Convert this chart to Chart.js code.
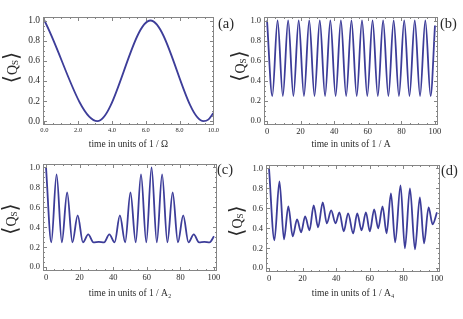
<!DOCTYPE html>
<html>
<head>
<meta charset="utf-8">
<script src="https://cdn.jsdelivr.net/npm/chart.js@4.4.1/dist/chart.umd.min.js"></script>
<style>
    body { margin: 0; background: #fff; width: 463px; height: 319px; overflow: hidden; position: relative; }
    canvas { position: absolute; }
</style>
</head>
<body>
<canvas id="chartA" width="240" height="150" style="left:0;top:0"></canvas>
<canvas id="chartB" width="235" height="150" style="left:228px;top:0"></canvas>
<canvas id="chartC" width="240" height="169" style="left:0;top:150px"></canvas>
<canvas id="chartD" width="235" height="169" style="left:228px;top:150px"></canvas>
<script>
// ============= DATA (extrema of each curve) =============

// (a) time in units of 1/Ω
const aTime  = [0, 3.14, 6.28, 9.42, 9.7, 10];
const aValue = [1.0, 0.0, 1.0, 0.0, 0.015, 0.08];

// (b) time in units of 1/A
const bTime  = [0, 3.14, 6.28, 9.42, 12.57, 15.71, 18.85, 21.99, 25.13, 28.27, 31.42,
                34.56, 37.70, 40.84, 43.98, 47.12, 50.27, 53.41, 56.55, 59.69, 62.83,
                65.97, 69.12, 72.26, 75.40, 78.54, 81.68, 84.82, 87.96, 91.11, 94.25, 97.39, 100];
const bValue = [1.0, 0.25, 1.0, 0.25, 1.0, 0.25, 1.0, 0.25, 1.0, 0.25, 1.0,
                0.25, 1.0, 0.25, 1.0, 0.25, 1.0, 0.25, 1.0, 0.25, 1.0,
                0.25, 1.0, 0.25, 1.0, 0.25, 1.0, 0.25, 1.0, 0.25, 1.0, 0.25, 0.95];

// (c) time in units of 1/A2
const cTime  = [0, 3.14, 6.28, 9.42, 12.57, 15.71, 18.85, 21.99, 25.13, 28.27, 31.42,
                34.56, 37.70, 40.84, 43.98, 47.12, 50.27, 53.41, 56.55, 59.69, 62.83,
                65.97, 69.12, 72.26, 75.40, 78.54, 81.68, 84.82, 87.96, 91.11, 94.25, 97.39, 100];
const cValue = [1.0, 0.25, 0.93, 0.25, 0.75, 0.25, 0.52, 0.25, 0.33, 0.25, 0.255,
                0.25, 0.33, 0.25, 0.52, 0.25, 0.75, 0.25, 0.93, 0.25, 1.0,
                0.25, 0.93, 0.25, 0.75, 0.25, 0.52, 0.25, 0.33, 0.25, 0.255, 0.25, 0.31];

// (d) time in units of 1/A4
const dTime  = [0, 3.2, 6.2, 8.9, 11.5, 14.1, 16.7, 19.1, 21.5, 24.1, 26.6, 29.2, 32.0,
                34.4, 37.0, 39.6, 41.9, 44.5, 47.1, 50.1, 52.5, 55.1, 57.7, 60.0, 62.6,
                65.0, 67.6, 70.0, 72.6, 75.1, 78.3, 80.9, 83.9, 86.9, 89.8, 92.3, 95.0, 97.4, 100];
const dValue = [1.0, 0.28, 0.87, 0.29, 0.62, 0.32, 0.49, 0.36, 0.52, 0.38, 0.63, 0.41, 0.66,
                0.45, 0.58, 0.45, 0.56, 0.37, 0.55, 0.35, 0.55, 0.38, 0.56, 0.37, 0.59,
                0.40, 0.62, 0.35, 0.75, 0.26, 0.83, 0.20, 0.80, 0.19, 0.71, 0.25, 0.61, 0.44, 0.56];

// tick labels
const yTicks      = [0, 0.2, 0.4, 0.6, 0.8, 1.0];
const xTicksOmega = [0, 2, 4, 6, 8, 10];
const xTicksTime  = [0, 20, 40, 60, 80, 100];

// ============= STYLE =============

const LINE_COLOR = '#3d3d99';
const FRAME_COLOR = '#858585';
const TEXT_COLOR = '#2a2a2a';
const SERIF = '"Liberation Serif", "DejaVu Serif", serif';

// frame with inward ticks on all four sides (Mathematica look)
const frameTicks = {
    id: 'frameTicks',
    afterDatasetsDraw(chart, args, opts) {
        const {ctx, chartArea: a, scales} = chart;
        ctx.save();
        ctx.strokeStyle = FRAME_COLOR;
        ctx.lineWidth = 1;
        ctx.strokeRect(Math.round(a.left) + 0.5, Math.round(a.top) + 0.5,
                       Math.round(a.right - a.left) - 1, Math.round(a.bottom - a.top) - 1);

        ctx.beginPath();
        // x ticks
        const sx = scales.x;
        for (let k = Math.ceil(sx.min / opts.xMinor); k * opts.xMinor <= sx.max; k++) {
            const v = k * opts.xMinor;
            const major = Math.abs(v / opts.xMajor - Math.round(v / opts.xMajor)) < 1e-6;
            const len = major ? 4 : 2;
            const px = Math.round(sx.getPixelForValue(v)) + 0.5;
            ctx.moveTo(px, a.bottom); ctx.lineTo(px, a.bottom - len);
            ctx.moveTo(px, a.top); ctx.lineTo(px, a.top + len);
        }
        // y ticks
        const sy = scales.y;
        for (let k = Math.ceil(sy.min / opts.yMinor - 1e-9); k * opts.yMinor <= sy.max + 1e-9; k++) {
            const v = k * opts.yMinor;
            const major = Math.abs(v / opts.yMajor - Math.round(v / opts.yMajor)) < 1e-6;
            const len = major ? 4 : 2;
            const py = Math.round(sy.getPixelForValue(v)) + 0.5;
            ctx.moveTo(a.left, py); ctx.lineTo(a.left + len, py);
            ctx.moveTo(a.right, py); ctx.lineTo(a.right - len, py);
        }
        ctx.stroke();
        ctx.restore();
    }
};

// rotated <Q_S> label and panel letter
const panelText = {
    id: 'panelText',
    afterDraw(chart, args, opts) {
        const ctx = chart.ctx;
        ctx.save();
        ctx.fillStyle = TEXT_COLOR;
        ctx.textBaseline = 'middle';
        ctx.textAlign = 'left';

        const parts = [
            {t: '\u27E8', f: '21px "DejaVu Sans", sans-serif', dy: 0},
            {t: 'Q', f: '14px ' + SERIF, dy: 0},
            {t: 'S', f: '9px ' + SERIF, dy: 3},
            {t: '\u27E9', f: '21px "DejaVu Sans", sans-serif', dy: 0}
        ];
        let total = 0;
        parts.forEach(p => { ctx.font = p.f; p.w = ctx.measureText(p.t).width; total += p.w; });
        ctx.translate(opts.yTitleX, opts.yTitleY);
        ctx.rotate(-Math.PI / 2);
        let x = -total / 2;
        parts.forEach(p => { ctx.font = p.f; ctx.fillText(p.t, x, p.dy); x += p.w; });
        ctx.restore();

        ctx.save();
        ctx.fillStyle = TEXT_COLOR;
        ctx.textBaseline = 'middle';
        ctx.font = '14.5px ' + SERIF;
        ctx.fillText(opts.label, opts.labelX, opts.labelY);
        ctx.restore();
    }
};

function toPoints(times, values) {
    return times.map((t, i) => ({x: t, y: values[i]}));
}

function makePanel(id, p) {
    const canvas = document.getElementById(id);
    const titleSize = 9.5;
    const titlePadBottom = canvas.height - p.titleY - titleSize * 1.2 / 2;

    return new Chart(canvas.getContext('2d'), {
        type: 'line',
        data: {
            datasets: [{
                data: toPoints(p.time, p.value),
                borderColor: LINE_COLOR,
                borderWidth: 1.8,
                pointRadius: 0,
                fill: false,
                cubicInterpolationMode: 'monotone'
            }]
        },
        options: {
            responsive: false,
            animation: false,
            events: [],
            layout: { padding: { top: p.padTop, right: p.padRight, left: 0, bottom: 0 } },
            plugins: {
                legend: { display: false },
                tooltip: { enabled: false },
                frameTicks: p.ticks,
                panelText: { label: p.label, labelX: p.labelX, labelY: p.labelY,
                             yTitleX: p.yTitleX, yTitleY: p.yTitleY }
            },
            scales: {
                x: {
                    type: 'linear',
                    min: p.xMin,
                    max: p.xMax,
                    grid: { display: false, drawTicks: false },
                    border: { display: false },
                    afterBuildTicks: s => { s.ticks = p.xTicks.map(v => ({value: v})); },
                    afterFit: s => { s.height = p.xHeight; },
                    ticks: {
                        autoSkip: false, maxRotation: 0, minRotation: 0,
                        padding: p.xTickPad,
                        color: TEXT_COLOR,
                        font: { family: SERIF, size: p.xTickSize },
                        callback: v => p.xFormat(v)
                    },
                    title: {
                        display: true,
                        text: p.xTitle,
                        color: TEXT_COLOR,
                        padding: { top: 0, bottom: titlePadBottom },
                        font: { family: SERIF, size: titleSize }
                    }
                },
                y: {
                    type: 'linear',
                    min: -0.038,
                    max: 1.035,
                    grid: { display: false, drawTicks: false },
                    border: { display: false },
                    afterBuildTicks: s => { s.ticks = yTicks.map(v => ({value: v})); },
                    afterFit: s => { s.width = p.yWidth; },
                    ticks: {
                        autoSkip: false,
                        padding: 3,
                        color: TEXT_COLOR,
                        font: { family: SERIF, size: p.yTickSize },
                        callback: v => v.toFixed(1)
                    }
                }
            }
        },
        plugins: [frameTicks, panelText]
    });
}

const timeTicks = { xMajor: 20, xMinor: 5, yMajor: 0.2, yMinor: 0.05 };

makePanel('chartA', {
    time: aTime, value: aValue, xTicks: xTicksOmega,
    xMin: -0.08, xMax: 10.04, xFormat: v => v.toFixed(1),
    xTickSize: 6.5, xTickPad: 1, yTickSize: 9.5,
    xTitle: 'time in units of 1 / \u03A9', titleY: 144,
    yWidth: 43, padTop: 17, padRight: 26, xHeight: 25,
    ticks: { xMajor: 2, xMinor: 0.5, yMajor: 0.2, yMinor: 0.05 },
    label: '(a)', labelX: 218, labelY: 24, yTitleX: 13, yTitleY: 67.5
});

makePanel('chartB', {
    time: bTime, value: bValue, xTicks: xTicksTime,
    xMin: -1.8, xMax: 101.8, xFormat: v => String(v),
    xTickSize: 8.5, xTickPad: 2, yTickSize: 8.5,
    xTitle: 'time in units of 1 / A', titleY: 144,
    yWidth: 36, padTop: 17, padRight: 25, xHeight: 25,
    ticks: timeTicks,
    label: '(b)', labelX: 212, labelY: 24, yTitleX: 13, yTitleY: 66
});

makePanel('chartC', {
    time: cTime, value: cValue, xTicks: xTicksTime,
    xMin: -1.8, xMax: 101.8, xFormat: v => String(v),
    xTickSize: 8.5, xTickPad: 2, yTickSize: 8.5,
    xTitle: 'time in units of 1 / A\u2082', titleY: 143,
    yWidth: 43, padTop: 14, padRight: 23, xHeight: 48,
    ticks: timeTicks,
    label: '(c)', labelX: 217, labelY: 20, yTitleX: 12, yTitleY: 69
});

makePanel('chartD', {
    time: dTime, value: dValue, xTicks: xTicksTime,
    xMin: -1.8, xMax: 101.8, xFormat: v => String(v),
    xTickSize: 8.5, xTickPad: 2, yTickSize: 8.5,
    xTitle: 'time in units of 1 / A\u2084', titleY: 143,
    yWidth: 38, padTop: 15, padRight: 23, xHeight: 47,
    ticks: timeTicks,
    label: '(d)', labelX: 213, labelY: 21, yTitleX: 10, yTitleY: 71
});
</script>
</body>
</html>
